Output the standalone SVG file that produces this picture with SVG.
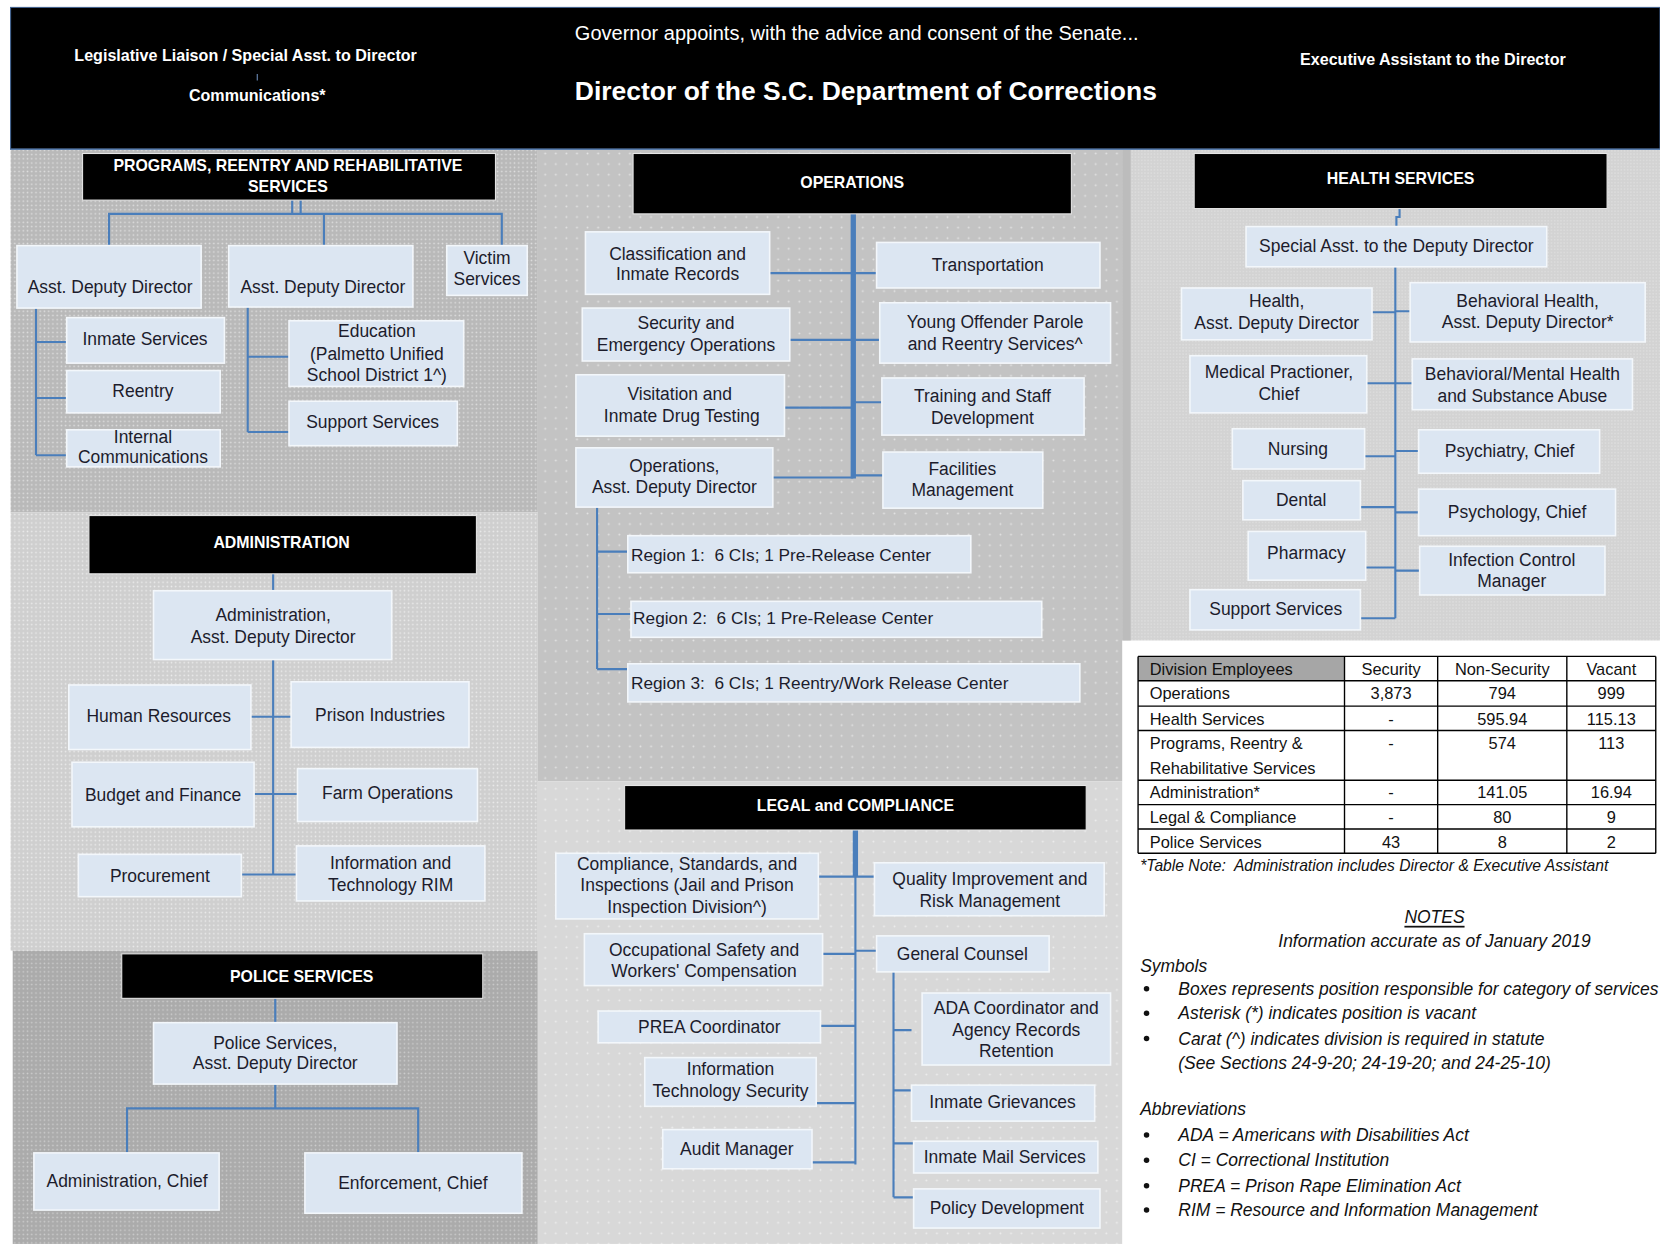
<svg xmlns="http://www.w3.org/2000/svg" width="1660" height="1244" viewBox="0 0 1660 1244">
<style>
.bx{fill:#dce6f2;stroke:#f3f7fb;stroke-width:1.5}
.hd{fill:#000;stroke:#e6e6e6;stroke-width:1}
.t{font-family:"Liberation Sans",Arial,sans-serif;font-size:16.5px;fill:#1c1c2c;text-anchor:middle;dominant-baseline:central}
.tl{font-family:"Liberation Sans",Arial,sans-serif;font-size:16.3px;fill:#1c1c2c;text-anchor:start;dominant-baseline:central}
.ht{font-family:"Liberation Sans",Arial,sans-serif;font-size:15px;font-weight:bold;fill:#fff;text-anchor:middle;dominant-baseline:central}
.wt{font-family:"Liberation Sans",Arial,sans-serif;font-size:15.2px;font-weight:bold;fill:#fff;dominant-baseline:central}
.c{stroke:#4a7ebb;stroke-width:2;fill:none}
.cs{stroke:#4a7ebb;stroke-width:5;fill:none}
.tb{font-family:"Liberation Sans",Arial,sans-serif;font-size:15.5px;fill:#111;dominant-baseline:central}
.tbc{text-anchor:middle}
.nt{font-family:"Liberation Sans",Arial,sans-serif;font-size:16.5px;font-style:italic;fill:#111;dominant-baseline:central}
.tn{font-family:"Liberation Sans",Arial,sans-serif;font-size:14.8px;font-style:italic;fill:#111;dominant-baseline:central}
.ln{stroke:#000;stroke-width:1.3}
</style>
<defs>
<pattern id="pProg" width="4" height="4" patternUnits="userSpaceOnUse"><rect width="4" height="4" fill="#b9b9b9"/><circle cx="2" cy="2" r="0.8" fill="#dedede"/></pattern>
<pattern id="pAdmin" width="4" height="4" patternUnits="userSpaceOnUse"><rect width="4" height="4" fill="#cfcfcf"/><circle cx="2" cy="2" r="0.8" fill="#ececec"/></pattern>
<pattern id="pPolice" width="4" height="4" patternUnits="userSpaceOnUse"><rect width="4" height="4" fill="#ababab"/><circle cx="2" cy="2" r="0.8" fill="#cdcdcd"/></pattern>
<pattern id="pOps" width="10" height="10" patternUnits="userSpaceOnUse"><rect width="10" height="10" fill="#c3c3c3"/><circle cx="5" cy="5" r="0.9" fill="#e3e3e3"/></pattern>
<pattern id="pLegal" width="10" height="10" patternUnits="userSpaceOnUse"><rect width="10" height="10" fill="#d8d8d8"/><circle cx="5" cy="5" r="0.9" fill="#eeeeee"/></pattern>
<pattern id="pHealth" width="3" height="3" patternUnits="userSpaceOnUse"><rect width="3" height="3" fill="#d3d3d3"/><circle cx="1.5" cy="1.5" r="0.6" fill="#e5e5e5"/></pattern>
</defs>
<rect width="1660" height="1244" fill="#fff"/>
<g transform="scale(1.05867)">
<g id="panels">
<rect x="10" y="141" width="498" height="343" fill="url(#pProg)"/>
<rect x="10" y="484" width="498" height="414" fill="url(#pAdmin)"/>
<rect x="12" y="898" width="496" height="277" fill="url(#pPolice)"/>
<rect x="508" y="141" width="552" height="597" fill="url(#pOps)"/>
<rect x="508" y="738" width="552" height="437" fill="url(#pLegal)"/>
<rect x="1060" y="141" width="508" height="464" fill="url(#pHealth)"/>
<rect x="1060" y="141" width="8" height="464" fill="#bcbcbc"/>
</g>
<g id="director">
<rect x="10" y="7" width="1558" height="134" fill="#000" stroke="#41618f" stroke-width="1"/>
<line x1="10" y1="141" x2="1568" y2="141" stroke="#5b7fae" stroke-width="1.5"/>
<text class="wt" x="232" y="52" text-anchor="middle">Legislative Liaison / Special Asst. to Director</text>
<line x1="243" y1="70" x2="243" y2="76" stroke="#6f8fbf" stroke-width="1"/>
<text class="wt" x="243" y="90" text-anchor="middle">Communications*</text>
<text x="543" y="31" font-family="Liberation Sans, Arial, sans-serif" font-size="18.9" fill="#fff" dominant-baseline="central">Governor appoints, with the advice and consent of the Senate...</text>
<text x="543" y="86" font-family="Liberation Sans, Arial, sans-serif" font-size="25" font-weight="bold" fill="#fff" dominant-baseline="central">Director of the S.C. Department of Corrections</text>
<text class="wt" x="1228" y="56">Executive Assistant to the Director</text>
</g>
<g id="connectors">
<path class="c" d="M276 189V202M284 189V202M103 232V202H474V232M306 202V232"/>
<path class="c" d="M34 291V430M34 323H63M34 376H63M34 430H63"/>
<path class="c" d="M234 290V408M234 337H273M234 408H273"/>
<path class="c" d="M258 542V558M258 623V826M237 677H275M240 750H281M228 826H280"/>
<path class="c" d="M260 943V966M120 1089V1047H395V1089"/>
<path class="c" stroke-width="3" d="M260 1024V1047"/>
<path class="cs" d="M806 202V452"/>
<path class="c" d="M727 258H828M746 321H831M741 385H806M806 380H833M730 451H806M806 449H834"/>
<path class="c" d="M564 479V632M564 521H593M564 580H596M564 632H593"/>
<path class="cs" d="M808 784V828"/>
<path class="c" stroke-width="2.5" d="M808 826V1100"/>
<path class="c" d="M773 828H826M777 901H808M808 898H828M775 969H808M771 1042H808M767 1098H808"/>
<path class="c" d="M844 918V1131M844 973H861M844 1030H861M844 1080H863M844 1131H863"/>
<path class="c" d="M1322 197V205H1319V214M1318 252V584"/>
<path class="c" d="M1296 295H1318M1291 362H1318M1289 431H1318M1285 479H1318M1290 536H1318M1285 584H1318"/>
<path class="c" d="M1318 294H1332M1318 362H1334M1318 426H1340M1318 484H1340M1318 539H1341"/>
</g>
<g id="hdr-programs"><rect class="hd" x="78" y="145" width="390" height="44"/><text class="ht" x="272" y="156">PROGRAMS, REENTRY AND REHABILITATIVE</text><text class="ht" x="272" y="176">SERVICES</text></g>
<g id="n-prog-add1"><rect class="bx" x="16" y="232" width="174" height="59"/><text class="t" x="104" y="271">Asst. Deputy Director</text></g>
<g id="n-prog-add2"><rect class="bx" x="216" y="232" width="174" height="58"/><text class="t" x="305" y="271">Asst. Deputy Director</text></g>
<g id="n-victim"><rect class="bx" x="422" y="232" width="76" height="47"/><text class="t" x="460" y="244">Victim</text><text class="t" x="460" y="264">Services</text></g>
<g id="n-inmate-svc"><rect class="bx" x="63" y="300" width="149" height="43"/><text class="t" x="137" y="320">Inmate Services</text></g>
<g id="n-reentry"><rect class="bx" x="63" y="350" width="145" height="40"/><text class="t" x="135" y="369">Reentry</text></g>
<g id="n-internal"><rect class="bx" x="63" y="406" width="145" height="35"/><text class="t" x="135" y="413">Internal</text><text class="t" x="135" y="432">Communications</text></g>
<g id="n-education"><rect class="bx" x="273" y="303" width="165" height="62"/><text class="t" x="356" y="313">Education</text><text class="t" x="356" y="334">(Palmetto Unified</text><text class="t" x="356" y="354">School District 1^)</text></g>
<g id="n-prog-support"><rect class="bx" x="273" y="379" width="159" height="42"/><text class="t" x="352" y="399">Support Services</text></g>
<g id="hdr-admin"><rect class="hd" x="84" y="487" width="366" height="55"/><text class="ht" x="266" y="512">ADMINISTRATION</text></g>
<g id="n-admin-add"><rect class="bx" x="145" y="558" width="225" height="65"/><text class="t" x="258" y="581">Administration,</text><text class="t" x="258" y="602">Asst. Deputy Director</text></g>
<g id="n-hr"><rect class="bx" x="65" y="647" width="172" height="61"/><text class="t" x="150" y="676">Human Resources</text></g>
<g id="n-prison-ind"><rect class="bx" x="275" y="644" width="168" height="62"/><text class="t" x="359" y="675">Prison Industries</text></g>
<g id="n-budget"><rect class="bx" x="68" y="720" width="172" height="61"/><text class="t" x="154" y="751">Budget and Finance</text></g>
<g id="n-farm"><rect class="bx" x="281" y="726" width="170" height="50"/><text class="t" x="366" y="749">Farm Operations</text></g>
<g id="n-procure"><rect class="bx" x="74" y="807" width="154" height="40"/><text class="t" x="151" y="827">Procurement</text></g>
<g id="n-it-rim"><rect class="bx" x="280" y="799" width="178" height="52"/><text class="t" x="369" y="815">Information and</text><text class="t" x="369" y="836">Technology RIM</text></g>
<g id="hdr-police"><rect class="hd" x="115" y="901" width="341" height="42"/><text class="ht" x="285" y="922">POLICE SERVICES</text></g>
<g id="n-police-add"><rect class="bx" x="145" y="966" width="230" height="58"/><text class="t" x="260" y="985">Police Services,</text><text class="t" x="260" y="1004">Asst. Deputy Director</text></g>
<g id="n-pol-admin"><rect class="bx" x="32" y="1089" width="175" height="54"/><text class="t" x="120" y="1116">Administration, Chief</text></g>
<g id="n-enforce"><rect class="bx" x="288" y="1089" width="205" height="57"/><text class="t" x="390" y="1117">Enforcement, Chief</text></g>
<g id="hdr-ops"><rect class="hd" x="598" y="145" width="414" height="57"/><text class="ht" x="805" y="172">OPERATIONS</text></g>
<g id="n-class"><rect class="bx" x="553" y="219" width="174" height="59"/><text class="t" x="640" y="240">Classification and</text><text class="t" x="640" y="259">Inmate Records</text></g>
<g id="n-security"><rect class="bx" x="550" y="291" width="196" height="50"/><text class="t" x="648" y="305">Security and</text><text class="t" x="648" y="326">Emergency Operations</text></g>
<g id="n-visit"><rect class="bx" x="544" y="354" width="197" height="58"/><text class="t" x="642" y="372">Visitation and</text><text class="t" x="644" y="393">Inmate Drug Testing</text></g>
<g id="n-ops-add"><rect class="bx" x="544" y="423" width="186" height="56"/><text class="t" x="637" y="440">Operations,</text><text class="t" x="637" y="460">Asst. Deputy Director</text></g>
<g id="n-transport"><rect class="bx" x="828" y="229" width="211" height="43"/><text class="t" x="933" y="250">Transportation</text></g>
<g id="n-yop"><rect class="bx" x="831" y="286" width="218" height="57"/><text class="t" x="940" y="304">Young Offender Parole</text><text class="t" x="940" y="325">and Reentry Services^</text></g>
<g id="n-training"><rect class="bx" x="833" y="357" width="191" height="54"/><text class="t" x="928" y="374">Training and Staff</text><text class="t" x="928" y="395">Development</text></g>
<g id="n-facilities"><rect class="bx" x="834" y="427" width="151" height="53"/><text class="t" x="909" y="443">Facilities</text><text class="t" x="909" y="463">Management</text></g>
<g id="n-region1"><rect class="bx" x="593" y="506" width="324" height="35"/><text class="tl" x="596" y="524" xml:space="preserve">Region 1:  6 CIs; 1 Pre-Release Center</text></g>
<g id="n-region2"><rect class="bx" x="596" y="568" width="388" height="34"/><text class="tl" x="598" y="584" xml:space="preserve">Region 2:  6 CIs; 1 Pre-Release Center</text></g>
<g id="n-region3"><rect class="bx" x="593" y="627" width="427" height="36"/><text class="tl" x="596" y="645" xml:space="preserve">Region 3:  6 CIs; 1 Reentry/Work Release Center</text></g>
<g id="hdr-legal"><rect class="hd" x="590" y="742" width="436" height="42"/><text class="ht" x="808" y="761">LEGAL and COMPLIANCE</text></g>
<g id="n-compliance"><rect class="bx" x="525" y="806" width="248" height="62"/><text class="t" x="649" y="816">Compliance, Standards, and</text><text class="t" x="649" y="836">Inspections (Jail and Prison</text><text class="t" x="649" y="857">Inspection Division^)</text></g>
<g id="n-occ"><rect class="bx" x="552" y="882" width="225" height="49"/><text class="t" x="665" y="897">Occupational Safety and</text><text class="t" x="665" y="917">Workers' Compensation</text></g>
<g id="n-prea"><rect class="bx" x="565" y="955" width="210" height="30"/><text class="t" x="670" y="970">PREA Coordinator</text></g>
<g id="n-itsec"><rect class="bx" x="609" y="999" width="162" height="46"/><text class="t" x="690" y="1010">Information</text><text class="t" x="690" y="1031">Technology Security</text></g>
<g id="n-audit"><rect class="bx" x="626" y="1067" width="141" height="37"/><text class="t" x="696" y="1085">Audit Manager</text></g>
<g id="n-quality"><rect class="bx" x="826" y="815" width="217" height="50"/><text class="t" x="935" y="830">Quality Improvement and</text><text class="t" x="935" y="851">Risk Management</text></g>
<g id="n-gc"><rect class="bx" x="828" y="884" width="163" height="34"/><text class="t" x="909" y="901">General Counsel</text></g>
<g id="n-ada"><rect class="bx" x="871" y="938" width="178" height="68"/><text class="t" x="960" y="952">ADA Coordinator and</text><text class="t" x="960" y="973">Agency Records</text><text class="t" x="960" y="993">Retention</text></g>
<g id="n-griev"><rect class="bx" x="861" y="1025" width="173" height="34"/><text class="t" x="947" y="1041">Inmate Grievances</text></g>
<g id="n-mail"><rect class="bx" x="863" y="1078" width="174" height="30"/><text class="t" x="949" y="1093">Inmate Mail Services</text></g>
<g id="n-policy"><rect class="bx" x="863" y="1123" width="176" height="37"/><text class="t" x="951" y="1141">Policy Development</text></g>
<g id="hdr-health"><rect class="hd" x="1128" y="145" width="390" height="52"/><text class="ht" x="1323" y="169">HEALTH SERVICES</text></g>
<g id="n-special"><rect class="bx" x="1177" y="214" width="284" height="38"/><text class="t" x="1319" y="232">Special Asst. to the Deputy Director</text></g>
<g id="n-health-add"><rect class="bx" x="1116" y="272" width="180" height="49"/><text class="t" x="1206" y="284">Health,</text><text class="t" x="1206" y="305">Asst. Deputy Director</text></g>
<g id="n-medical"><rect class="bx" x="1124" y="336" width="167" height="54"/><text class="t" x="1208" y="351">Medical Practioner,</text><text class="t" x="1208" y="372">Chief</text></g>
<g id="n-nursing"><rect class="bx" x="1164" y="405" width="125" height="38"/><text class="t" x="1226" y="424">Nursing</text></g>
<g id="n-dental"><rect class="bx" x="1174" y="454" width="111" height="37"/><text class="t" x="1229" y="472">Dental</text></g>
<g id="n-pharmacy"><rect class="bx" x="1179" y="502" width="111" height="46"/><text class="t" x="1234" y="522">Pharmacy</text></g>
<g id="n-health-support"><rect class="bx" x="1124" y="557" width="161" height="38"/><text class="t" x="1205" y="575">Support Services</text></g>
<g id="n-bh-add"><rect class="bx" x="1332" y="267" width="222" height="56"/><text class="t" x="1443" y="284">Behavioral Health,</text><text class="t" x="1443" y="304">Asst. Deputy Director*</text></g>
<g id="n-bmh"><rect class="bx" x="1334" y="339" width="208" height="48"/><text class="t" x="1438" y="353">Behavioral/Mental Health</text><text class="t" x="1438" y="374">and Substance Abuse</text></g>
<g id="n-psychiatry"><rect class="bx" x="1340" y="406" width="171" height="41"/><text class="t" x="1426" y="426">Psychiatry, Chief</text></g>
<g id="n-psychology"><rect class="bx" x="1340" y="462" width="186" height="44"/><text class="t" x="1433" y="484">Psychology, Chief</text></g>
<g id="n-infection"><rect class="bx" x="1341" y="516" width="175" height="46"/><text class="t" x="1428" y="529">Infection Control</text><text class="t" x="1428" y="549">Manager</text></g>
<g id="table">
<rect x="1075" y="620" width="195" height="23" fill="#a6a6a6"/>
<path class="ln" d="M1075 643H1564M1075 667H1564M1075 690H1564M1075 737H1564M1075 760H1564M1075 783H1564M1075 806H1564"/>
<path class="ln" stroke-width="2.5" d="M1075 620H1564"/>
<path class="ln" d="M1075 620V806M1270 620V806M1358 620V806M1480 620V806M1564 620V806"/>
<text class="tb" x="1086" y="632">Division Employees</text>
<text class="tb tbc" x="1314" y="632">Security</text>
<text class="tb tbc" x="1419" y="632">Non-Security</text>
<text class="tb tbc" x="1522" y="632">Vacant</text>
<text class="tb" x="1086" y="655">Operations</text>
<text class="tb tbc" x="1314" y="655">3,873</text>
<text class="tb tbc" x="1419" y="655">794</text>
<text class="tb tbc" x="1522" y="655">999</text>
<text class="tb" x="1086" y="679">Health Services</text>
<text class="tb tbc" x="1314" y="679">-</text>
<text class="tb tbc" x="1419" y="679">595.94</text>
<text class="tb tbc" x="1522" y="679">115.13</text>
<text class="tb" x="1086" y="702">Programs, Reentry &amp;</text>
<text class="tb" x="1086" y="725">Rehabilitative Services</text>
<text class="tb tbc" x="1314" y="702">-</text>
<text class="tb tbc" x="1419" y="702">574</text>
<text class="tb tbc" x="1522" y="702">113</text>
<text class="tb" x="1086" y="748">Administration*</text>
<text class="tb tbc" x="1314" y="748">-</text>
<text class="tb tbc" x="1419" y="748">141.05</text>
<text class="tb tbc" x="1522" y="748">16.94</text>
<text class="tb" x="1086" y="772">Legal &amp; Compliance</text>
<text class="tb tbc" x="1314" y="772">-</text>
<text class="tb tbc" x="1419" y="772">80</text>
<text class="tb tbc" x="1522" y="772">9</text>
<text class="tb" x="1086" y="795">Police Services</text>
<text class="tb tbc" x="1314" y="795">43</text>
<text class="tb tbc" x="1419" y="795">8</text>
<text class="tb tbc" x="1522" y="795">2</text>
<text class="tn" x="1077" y="818" xml:space="preserve">*Table Note:  Administration includes Director &amp; Executive Assistant</text>
</g>
<g id="notes">
<text class="nt" x="1355" y="866" text-anchor="middle" text-decoration="underline">NOTES</text>
<text class="nt" x="1355" y="889" text-anchor="middle">Information accurate as of January 2019</text>
<text class="nt" x="1077" y="912">Symbols</text>
<g fill="#111"><circle cx="1083" cy="934" r="2.6"/><circle cx="1083" cy="957" r="2.6"/><circle cx="1083" cy="981" r="2.6"/><circle cx="1083" cy="1072" r="2.6"/><circle cx="1083" cy="1096" r="2.6"/><circle cx="1083" cy="1120" r="2.6"/><circle cx="1083" cy="1143" r="2.6"/></g>
<text class="nt" x="1113" y="934">Boxes represents position responsible for category of services</text>
<text class="nt" x="1113" y="957">Asterisk (*) indicates position is vacant</text>
<text class="nt" x="1113" y="981">Carat (^) indicates division is required in statute</text>
<text class="nt" x="1113" y="1004">(See Sections 24-9-20; 24-19-20; and 24-25-10)</text>
<text class="nt" x="1077" y="1048">Abbreviations</text>
<text class="nt" x="1113" y="1072">ADA = Americans with Disabilities Act</text>
<text class="nt" x="1113" y="1096">CI = Correctional Institution</text>
<text class="nt" x="1113" y="1120">PREA = Prison Rape Elimination Act</text>
<text class="nt" x="1113" y="1143">RIM = Resource and Information Management</text>
</g>
</g>
</svg>
